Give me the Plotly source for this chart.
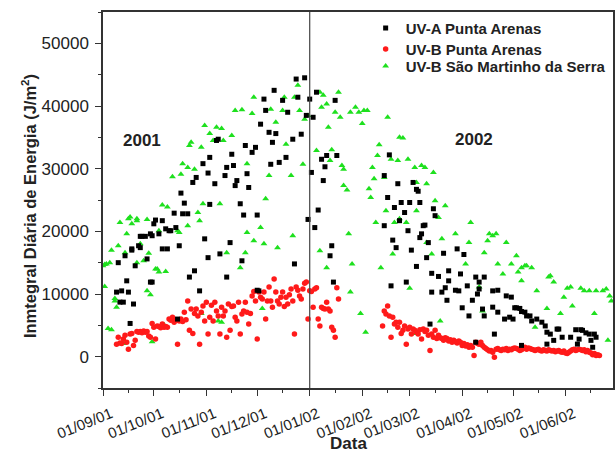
import pandas as pd
import plotly.graph_objects as go

START = pd.Timestamp("2001-09-01")

# ---- tick labels (month starts) ----
month_ticks = ["2001-09-01", "2001-10-01", "2001-11-01", "2001-12-01", "2002-01-01",
               "2002-02-01", "2002-03-01", "2002-04-01", "2002-05-01", "2002-06-01"]
y_ticks = [0, 10000, 20000, 30000, 40000, 50000]

# ---- UV-A Punta Arenas (days since 2001-09-01, J/m2) ----
uva_days = [8, 9, 10, 11, 12, 13, 14, 15, 16, 17, 17, 18, 19, 21, 22, 22, 23, 25, 26, 28,
            28, 29, 29, 30, 31, 33, 35, 35, 37, 38, 39, 40, 42, 43, 44, 45, 46, 47, 48, 50,
            51, 53, 54, 55, 57, 59, 60, 62, 62, 63, 63, 66, 67, 68, 69, 72, 73, 73, 75, 76,
            77, 78, 79, 81, 82, 83, 84, 85, 86, 88, 90, 91, 91, 92, 93, 95, 96, 98, 99, 100,
            101, 102, 104, 106, 108, 109, 112, 113, 114, 115, 117, 119, 120, 121, 122, 123, 124, 125, 126, 127,
            129, 130, 131, 132, 134, 135, 136, 137, 138,
            166, 166, 168, 169, 170, 171, 172, 173, 174, 175, 176, 178, 179, 180, 181, 182, 183, 185, 185, 186,
            187, 187, 188, 189, 190, 191, 192, 193, 194, 194, 195, 196, 198, 200, 201, 202, 203, 204, 204, 208,
            209, 210, 211, 212, 213, 215, 216, 218, 220, 220, 221, 222, 222, 224, 225, 225, 230, 230, 231, 233,
            233, 237, 238, 240, 241, 242, 243, 244, 246, 247, 247, 249, 250, 252, 253, 256, 259, 261, 262, 262,
            264, 266, 268, 269, 271, 276, 279, 280, 281, 282, 283, 285, 287, 288, 289, 290, 291]
uva_vals = [10300, 15000, 8700, 10500, 8700, 16100, 12100, 10300, 5300, 17200, 17000, 8400, 14500, 17700, 19200, 17400, 19200, 19200, 15600, 11900,
            19600, 11900, 19300, 21200, 21800, 19600, 21700, 17200, 20400, 17200, 20100, 20100, 22900, 20600, 6000, 17700, 26100, 22800, 24500, 22800,
            12700, 27800, 13700, 28600, 10500, 30800, 18800, 15800, 29300, 31800, 24300, 27600, 34500, 34700, 16400, 28900, 30200, 12700, 18200, 32300,
            30500, 27300, 28100, 24400, 15300, 22600, 33700, 29200, 27000, 32600, 33400, 22600, 10600, 10500, 37100, 41100, 39300, 35800, 30700, 34200,
            42500, 35600, 31000, 40900, 31800, 39000, 34700, 14800, 44300, 41400, 35500, 44500, 38500, 21900, 41100, 29400, 38200, 20600, 42200, 23400,
            31500, 28100, 30300, 32100, 16100, 17700, 11900, 40900, 32100,
            20900, 28900, 25400, 32200, 11300, 18600, 23800, 17400, 27600, 21700, 24600, 23000, 11900, 20100, 24600, 17000, 27800, 26700, 14400, 26400,
            24600, 19000, 19600, 20900, 21000, 15800, 18200, 5200, 13300, 10300, 23600, 22500, 12800, 10300, 16500, 11000, 9000, 12100, 13700, 10600,
            17200, 10500, 13200, 7800, 16300, 11300, 6500, 9000, 12700, 2300, 10000, 11900, 10800, 7600, 12700, 6500, 10500, 7900, 3600, 10600,
            7100, 6000, 9700, 6300, 9500, 6000, 7800, 7800, 7700, 7200, 1800, 7100, 6500, 6500, 5700, 6000, 5500, 4900, 3900, 2000,
            3600, 2600, 4400, 4400, 3100, 3100, 4300, 2000, 2800, 4300, 4200, 3800, 3600, 2600, 1500, 3600, 3100]

# ---- UV-B Punta Arenas ----
uvbpa_days = [8, 9, 10, 11, 12, 13, 14, 15, 16, 17, 18, 19, 20, 21, 22, 23, 24, 25, 26, 27,
              28, 29, 30, 31, 32, 33, 34, 35, 36, 37, 38, 39, 40, 41, 42, 43, 44, 45, 46, 47,
              48, 49, 50, 51, 52, 53, 54, 55, 56, 57, 58, 59, 60, 61, 62, 63, 64, 65, 66, 67,
              68, 69, 70, 71, 72, 73, 74, 75, 76, 77, 78, 79, 80, 81, 82, 83, 84, 85, 86, 87,
              88, 89, 90, 91, 92, 93, 94, 95, 96, 97, 98, 99, 100, 101, 102, 103, 104, 105, 106, 107,
              108, 109, 110, 111, 112, 113, 114, 115, 116, 117, 118, 119, 120, 121, 122, 123, 124, 125, 126, 127,
              128, 129, 130, 131, 132, 133, 134, 135, 136, 137, 138, 139,
              165, 166, 167, 168, 169, 170, 171, 172, 173, 174, 175, 176, 177, 178, 179, 180, 181, 182, 183, 184,
              185, 186, 187, 188, 189, 190, 191, 192, 193, 194, 195, 196, 197, 198, 199, 200, 201, 202, 203, 204,
              205, 206, 207, 208, 209, 210, 211, 212, 213, 214, 215, 216, 217, 218, 219, 220, 221, 222, 223, 224,
              225, 226, 227, 228, 229, 230, 231, 232, 233, 234, 235, 236, 237, 238, 239, 240, 241, 242, 243, 244,
              245, 246, 247, 248, 249, 250, 251, 252, 253, 254, 255, 256, 257, 258, 259, 260, 261, 262, 263, 264,
              265, 266, 267, 268, 269, 270, 271, 272, 273, 274, 275, 276, 277, 278, 279, 280, 281, 282, 283, 284,
              285, 286, 287, 288, 289, 290, 291, 292, 293]
uvbpa_vals = [2000, 3100, 2200, 2100, 2800, 3400, 2300, 1200, 3600, 3700, 1800, 2600, 4000, 3900, 4000, 3800, 4100, 3900, 4000, 3300,
              3100, 5300, 4700, 2800, 4900, 4800, 4600, 5200, 4700, 4800, 4700, 6000, 5800, 6300, 5500, 5900, 2000, 5700, 6000, 5600,
              7100, 5900, 8900, 4200, 7600, 3700, 6900, 7600, 6500, 2000, 7100, 8100, 5700, 8700, 3600, 6300, 8200, 5700, 8700, 7300,
              6500, 3600, 7900, 6500, 7300, 3100, 8400, 4200, 8000, 8100, 6300, 5700, 8700, 3600, 6800, 7300, 8700, 7100, 5200, 6900,
              9700, 10400, 8900, 2800, 10300, 9500, 9200, 10300, 6000, 8900, 11100, 8900, 7900, 12400, 10300, 8900, 8400, 9500, 10300, 8000,
              9500, 8400, 9900, 10800, 8900, 3600, 11100, 10600, 9700, 9200, 10800, 11700, 11900, 6000, 10500, 10400, 7900, 10800, 11000, 6000,
              4900, 7900, 7700, 7600, 8700, 7600, 7300, 4700, 4200, 3100, 11000, 9200,
              4900, 7300, 6800, 8100, 6500, 3100, 6300, 5200, 5500, 4700, 5500, 3700, 4200, 4900, 2000, 4400, 4700, 3600, 4400, 4200,
              3900, 3600, 4300, 2800, 4400, 4000, 4200, 3400, 1000, 3600, 3100, 4200, 2900, 3400, 3000, 2900, 2600, 3000, 2900, 2500,
              2700, 2300, 2600, 2400, 2200, 2500, 2300, 1800, 2100, 1700, 1900, 1500, 1800, 1500, 200, 2300, 2100, 2000, 2300, 1800,
              1500, 1300, 1100, 900, 1000, 700, -100, 1200, 1300, 1100, 1000, 1200, 1100, 1300, 1000, 1200, 1100, 1300, 1400, 1300,
              1200, 1000, 1100, 1300, 1500, 1200, 1400, 1300, 1200, 1100, 1000, 1100, 1200, 1000, 900, 1100, 1000, 900, 1100, 1000,
              900, 1000, 800, 900, 1000, 800, 700, 900, 600, 500, 700, 900, 1100, 1200, 1000, 1100, 1200, 1100, 1000, 1100,
              800, 1000, 700, 600, 300, 500, 200, 300, 200]

# ---- UV-B Sao Martinho da Serra ----
uvbsm_days = [0, 1, 1, 2, 3, 4, 5, 5, 7, 7, 8, 9, 10, 12, 13, 14, 15, 16, 17, 20,
              20, 20, 22, 24, 26, 26, 27, 28, 29, 31, 32, 33, 33, 35, 36, 37, 38, 41, 44, 45,
              46, 47, 50, 50, 51, 52, 54, 56, 57, 58, 58, 59, 60, 63, 65, 67, 68, 69, 70, 70,
              71, 73, 76, 78, 81, 82, 84, 85, 85, 88, 89, 89, 93, 94, 95, 96, 98, 99, 102, 103,
              106, 107, 108, 111, 112, 113, 115, 116, 118, 119, 121, 126, 128, 128, 129, 130, 132, 132, 133, 134,
              135, 137, 139, 140, 141, 142, 142, 144, 145, 146, 146, 147, 149, 151, 152, 153, 154, 155, 156, 157,
              158, 159, 160, 161, 162, 163, 164, 166, 167, 168, 170, 171, 172, 174, 175, 175, 177, 179, 180, 181,
              184, 185, 185, 185, 188, 190, 191, 191, 194, 195, 196, 198, 199, 200, 202, 208, 214, 216, 217, 222,
              224, 225, 227, 228, 230, 232, 233, 236, 238, 241, 244, 245, 247, 247, 249, 250, 253, 255, 256, 262,
              263, 264, 266, 270, 272, 274, 276, 277, 282, 284, 287, 290, 291, 295, 297, 298, 299, 300]
uvbsm_vals = [14500, 11200, 14700, 14800, 4500, 15000, 17000, 4300, 9300, 8900, 7900, 17700, 21400, 2100, 16600, 19600, 22000, 22300, 21200, 21700,
              22000, 15000, 18000, 15300, 21900, 10500, 16500, 9900, 2400, 14000, 14000, 13500, 20100, 24200, 5100, 13600, 23900, 28700, 20100, 19800,
              29100, 30800, 30200, 20900, 33700, 34200, 29900, 23000, 21700, 33400, 6900, 24400, 36900, 35600, 34500, 36600, 5700, 24400, 36400, 5500,
              34500, 16600, 35300, 39300, 14200, 39400, 16600, 19800, 30800, 38800, 41400, 18500, 20600, 7700, 18000, 25200, 28900, 39500, 37400, 17400,
              39300, 41400, 33900, 28900, 19300, 41400, 43300, 39300, 30700, 37900, 38500, 32900, 42200, 16900, 39800, 41700, 40300, 14200, 36600, 31300,
              33000, 39000, 42200, 38200, 30500, 29900, 27300, 26600, 19600, 39000, 10300, 14800, 39800, 39000, 6900, 37200, 39300, 3900, 39300, 26800,
              25400, 30200, 28400, 21400, 32100, 33800, 14200, 28600, 23300, 38200, 31500, 16400, 21400, 31300, 35000, 22000, 34900, 21400, 31500, 10900,
              30200, 27800, 23300, 3700, 30500, 30200, 27600, 18200, 16400, 29400, 24900, 22200, 5700, 18800, 24100, 19600, 14800, 18200, 21400, 11100,
              7300, 16600, 18500, 19600, 19300, 19600, 14800, 13200, 18200, 14800, 16100, 13500, 12100, 14200, 14500, 14500, 14200, 4700, 10500, 7700,
              12700, 12900, 11900, 6900, 9500, 10900, 11100, 8100, 10900, 10500, 10500, 6900, 10500, 10500, 10800, 2600, 9700, 8900]


def to_dates(days):
    return [START + pd.Timedelta(days=d) for d in days]


FONT = "Liberation Sans, Arial, sans-serif"
INK = "#222222"
AX = "#333333"

fig = go.Figure()
fig.add_trace(go.Scatter(x=to_dates(uvbsm_days), y=uvbsm_vals, mode="markers",
                         name="UV-B São Martinho da Serra", legend="legend3",
                         marker=dict(symbol="triangle-up", size=6, color="#1ee01e")))
fig.add_trace(go.Scatter(x=to_dates(uvbpa_days), y=uvbpa_vals, mode="markers",
                         name="UV-B Punta Arenas", legend="legend2",
                         marker=dict(symbol="circle", size=5.5, color="#ff1a1a")))
fig.add_trace(go.Scatter(x=to_dates(uva_days), y=uva_vals, mode="markers",
                         name="UV-A Punta Arenas", legend="legend",
                         marker=dict(symbol="square", size=5, color="#000000")))

x_range = ["2001-09-01", "2002-06-29"]
y_range = [-5000, 55000]

legend_style = dict(x=0.515, xanchor="left", yanchor="top", bgcolor="rgba(0,0,0,0)",
                    font=dict(family=FONT, size=15, weight="bold", color=INK),
                    itemsizing="trace")

fig.update_layout(
    width=616, height=453,
    margin=dict(l=103, r=1, t=12, b=65),
    plot_bgcolor="white", paper_bgcolor="white",
    font=dict(family=FONT, color=INK),
    showlegend=True,
    legend=dict(y=1.0006, **legend_style),
    legend2=dict(y=0.945, **legend_style),
    legend3=dict(y=0.8993, **legend_style),
    xaxis=dict(type="date", range=x_range, tickvals=month_ticks, tickformat="%d/%m/%y",
               tickangle=-22, ticks="outside", ticklen=6, tickwidth=1.2, tickcolor=AX,
               ticklabelstandoff=4, ticklabelshift=8,
               showline=True, linecolor=AX, linewidth=1.5, mirror=True,
               showgrid=False, zeroline=False, tickfont=dict(family=FONT, size=15, color=INK),
               minor=dict(ticks="outside", ticklen=3, tickwidth=1.2, tickcolor=AX,
                          dtick="M1", tick0="2001-09-16", showgrid=False)),
    yaxis=dict(range=y_range, tickvals=y_ticks, tickformat="d", ticks="outside", ticklen=6,
               tickwidth=1.2, tickcolor=AX, showline=True, linecolor=AX, ticklabelstandoff=3,
               linewidth=1.5, mirror=True, showgrid=False, zeroline=False,
               tickfont=dict(family=FONT, size=17, color=INK),
               minor=dict(ticks="outside", ticklen=3, tickwidth=1.2, tickcolor=AX,
                          dtick=5000, tick0=0, showgrid=False)),
    xaxis2=dict(type="date", range=x_range, overlaying="x", side="top", anchor="y",
                tickvals=month_ticks, ticks="inside", ticklen=5, tickwidth=1.2, tickcolor=AX,
                showticklabels=False, showline=False, showgrid=False, zeroline=False,
                minor=dict(ticks="inside", ticklen=3, tickwidth=1.2, tickcolor=AX,
                           dtick="M1", tick0="2001-09-16", showgrid=False)),
    yaxis2=dict(range=y_range, overlaying="y", side="right", anchor="x", tickvals=y_ticks,
                ticks="inside", ticklen=5, tickwidth=1.2, tickcolor=AX,
                showticklabels=False, showline=False, showgrid=False, zeroline=False,
                minor=dict(ticks="inside", ticklen=5, tickwidth=1.2, tickcolor=AX,
                           dtick=5000, tick0=0, showgrid=False)),
    shapes=[dict(type="line", xref="x", yref="paper", x0="2002-01-01", x1="2002-01-01",
                 y0=0, y1=1, line=dict(color="#444444", width=1.2))],
    annotations=[
        dict(text="Inmtegral Diária de Energia (J/m<sup>2</sup>)", textangle=-90,
             xref="paper", yref="paper", x=-0.145, y=0.484, xanchor="center", yanchor="middle",
             showarrow=False, font=dict(family=FONT, size=16.5, weight="bold", color=INK)),
        dict(text="Data", xref="paper", yref="paper", x=0.482, y=-0.148,
             xanchor="center", yanchor="middle", showarrow=False,
             font=dict(family=FONT, size=17, weight="bold", color=INK)),
        dict(text="2001", xref="x", yref="y", x="2001-09-24", y=34500, showarrow=False,
             font=dict(family=FONT, size=17, weight="bold", color=INK)),
        dict(text="2002", xref="x", yref="y", x="2002-04-08", y=34600, showarrow=False,
             font=dict(family=FONT, size=17, weight="bold", color=INK)),
    ],
)

fig.write_html("out.html", config={"displayModeBar": False},
               post_script="document.body.style.margin='0';document.body.style.overflow='hidden';")
